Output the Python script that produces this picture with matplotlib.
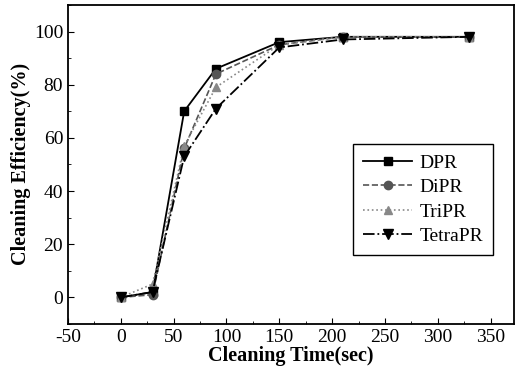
import matplotlib
matplotlib.use('Agg')
import matplotlib.pyplot as plt
from matplotlib.ticker import MultipleLocator

plt.rcParams['font.family'] = 'Liberation Serif'
plt.rcParams['axes.unicode_minus'] = False

time = [0, 30, 60, 90, 150, 210, 330]
dpr = [0, 2, 70, 86, 96, 98, 98]
dipr = [0, 1, 56, 84, 95, 98, 98]
tripr = [0, 5, 57, 79, 95, 98, 98]
tetrapr = [0, 2, 53, 71, 94, 97, 98]

fig = plt.figure(figsize=(5.19, 3.78), dpi=100)
ax = fig.add_axes([0.131, 0.143, 0.859, 0.844])

ax.plot(time, dpr, '-', color='black', marker='s', ms=6, lw=1.3, label='DPR')
ax.plot(time, dipr, '--', color='#555555', marker='o', ms=6, lw=1.2, label='DiPR')
ax.plot(time, tripr, ':', color='#888888', marker='^', ms=6, lw=1.2, label='TriPR')
ax.plot(time, tetrapr, '-.', color='black', marker='v', ms=7, lw=1.3, label='TetraPR')

ax.set_xlim(-50, 372)
ax.set_ylim(-10, 110)
ax.xaxis.set_major_locator(MultipleLocator(50))
ax.xaxis.set_minor_locator(MultipleLocator(25))
ax.yaxis.set_major_locator(MultipleLocator(20))
ax.yaxis.set_minor_locator(MultipleLocator(10))
ax.tick_params(which='both', direction='in', labelsize=14)
ax.tick_params(which='major', length=4)
ax.tick_params(which='minor', length=2)
for s in ax.spines.values():
    s.set_linewidth(1.3)

ax.set_xlabel('Cleaning Time(sec)', fontsize=14.5, fontweight='bold', labelpad=0)
ax.set_ylabel('Cleaning Efficiency(%)', fontsize=14.5, fontweight='bold', labelpad=2)

leg = ax.legend(loc='center right', bbox_to_anchor=(0.975, 0.39), fontsize=14,
                fancybox=False, edgecolor='black', framealpha=1,
                handlelength=2.5, borderpad=0.5, labelspacing=0.35,
                handletextpad=0.4)
leg.get_frame().set_linewidth(1.0)

fig.savefig('out.png', dpi=100)
